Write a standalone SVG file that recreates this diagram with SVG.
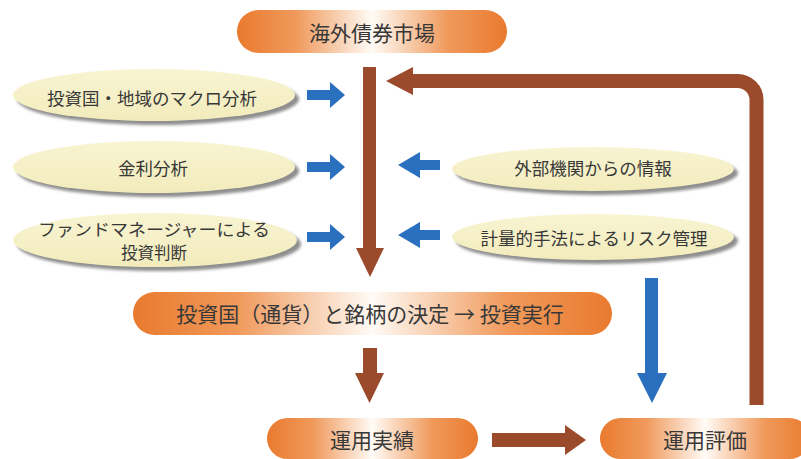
<svg xmlns="http://www.w3.org/2000/svg" width="801" height="459" viewBox="0 0 801 459">
<defs>
  <linearGradient id="pill" x1="0" y1="0" x2="1" y2="0">
    <stop offset="0" stop-color="#e97a2e"/>
    <stop offset="0.22" stop-color="#f09a5c"/>
    <stop offset="0.5" stop-color="#fffbf6"/>
    <stop offset="0.78" stop-color="#f09a5c"/>
    <stop offset="1" stop-color="#e97a2e"/>
  </linearGradient>
  <linearGradient id="ell" x1="0" y1="0" x2="0" y2="1">
    <stop offset="0" stop-color="#f8f4d2"/>
    <stop offset="1" stop-color="#f2ecbc"/>
  </linearGradient>
  <filter id="blur" x="-10%" y="-30%" width="120%" height="160%">
    <feGaussianBlur stdDeviation="1.8"/>
  </filter>
</defs>
<style>
  text { font-family: "Noto Sans CJK JP", "Noto Sans CJK SC", sans-serif; fill: #383838; text-anchor: middle; dominant-baseline: central; }
  .pill { fill: url(#pill); }
  .ell { fill: url(#ell); }
  .shadow { fill: #8e8e8e; filter: url(#blur); }
  .brown { fill: #9b4a2b; }
  .blue { fill: #2a70be; }
  .big { font-size: 21px; }
  .small { font-size: 17.5px; }
  .fm { font-size: 16.5px; }
</style>
<rect width="801" height="459" fill="#ffffff"/>

<g id="connectors">
  <!-- main down arrow -->
  <rect class="brown" x="363" y="67" width="13" height="182"/>
  <polygon class="brown" points="356,248 384,248 370,277"/>
  <!-- return loop -->
  <path d="M756.5 405 V100 A19 19 0 0 0 737.5 81 H410" fill="none" stroke="#9b4a2b" stroke-width="14"/>
  <polygon class="brown" points="413,67 386,81 413,95"/>
  <!-- middle down arrow -->
  <rect class="brown" x="363" y="348" width="14" height="26"/>
  <polygon class="brown" points="355,373 384,373 369.5,403"/>
  <!-- bottom right arrow -->
  <rect class="brown" x="492" y="433" width="75" height="14"/>
  <polygon class="brown" points="565,425 586,440 565,455"/>
  <!-- left blue arrows -->
  <path class="blue" d="M307 90 H330 V82 L345 95 L330 108 V100 H307 Z"/>
  <path class="blue" d="M307 162 H330 V154 L345 167 L330 180 V172 H307 Z"/>
  <path class="blue" d="M307 232 H330 V224 L345 237 L330 250 V242 H307 Z"/>
  <!-- right blue arrows -->
  <path class="blue" d="M440 160 H420 V152 L398 165 L420 178 V170 H440 Z"/>
  <path class="blue" d="M440 230 H420 V222 L398 235 L420 248 V240 H440 Z"/>
  <!-- blue down arrow -->
  <rect class="blue" x="645" y="278" width="13" height="96"/>
  <polygon class="blue" points="637,373 667,373 652,403"/>
</g>

<g id="n-market">
  <rect class="pill" x="237" y="10" width="270" height="43" rx="21.5"/>
  <text class="big" x="372" y="32">海外債券市場</text>
</g>

<g id="n-macro">
  <ellipse class="shadow" cx="158" cy="99" rx="141" ry="26"/>
  <ellipse class="ell" cx="154" cy="95" rx="141" ry="26"/>
  <text class="small" x="152" y="97">投資国・地域のマクロ分析</text>
</g>

<g id="n-rate">
  <ellipse class="shadow" cx="158" cy="171" rx="141" ry="26"/>
  <ellipse class="ell" cx="154" cy="167" rx="141" ry="26"/>
  <text class="small" x="153" y="167">金利分析</text>
</g>

<g id="n-fm">
  <ellipse class="shadow" cx="159" cy="244" rx="142" ry="27"/>
  <ellipse class="ell" cx="155" cy="240" rx="142" ry="27"/>
  <text class="fm" x="154" y="229" textLength="232" lengthAdjust="spacingAndGlyphs">ファンドマネージャーによる</text>
  <text class="fm" x="154" y="252">投資判断</text>
</g>

<g id="n-external">
  <ellipse class="shadow" cx="597" cy="173" rx="141" ry="22"/>
  <ellipse class="ell" cx="593" cy="169" rx="141" ry="22"/>
  <text class="small" x="593" y="167">外部機関からの情報</text>
</g>

<g id="n-risk">
  <ellipse class="shadow" cx="597" cy="241" rx="141" ry="23"/>
  <ellipse class="ell" cx="593" cy="237" rx="141" ry="23"/>
  <text class="small" x="594" y="237">計量的手法によるリスク管理</text>
</g>

<g id="n-decision">
  <rect class="pill" x="133" y="292" width="479" height="43" rx="21.5"/>
  <text class="big" x="370" y="313">投資国（通貨）と銘柄の決定 → 投資実行</text>
</g>

<g id="n-result">
  <rect class="pill" x="267" y="418" width="211" height="41" rx="20.5"/>
  <text class="big" x="372" y="439">運用実績</text>
</g>

<g id="n-eval">
  <rect class="pill" x="600" y="418" width="210" height="41" rx="20.5"/>
  <text class="big" x="705" y="439">運用評価</text>
</g>
</svg>
